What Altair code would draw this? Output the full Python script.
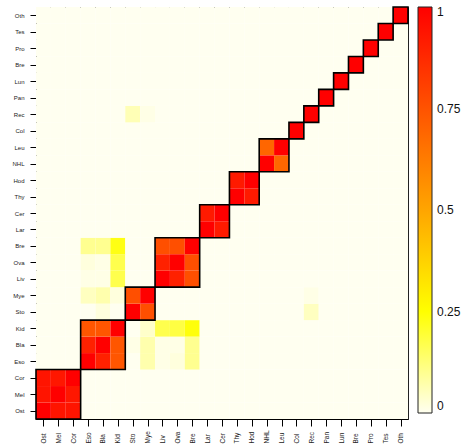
import altair as alt
import pandas as pd

names = ["Ost", "Mel", "Cor", "Eso", "Bla", "Kid", "Sto", "Mye", "Liv", "Ova", "Bre",
         "Lar", "Cer", "Thy", "Hod", "NHL", "Leu", "Col", "Rec", "Pan", "Lun", "Bre",
         "Pro", "Tes", "Oth"]

# block sizes along the diagonal (in the order of names)
group_sizes = [3, 3, 2, 3, 2, 2, 2, 1, 1, 1, 1, 1, 1, 1, 1]

# matrix[row][col]; row 0 = bottom (Ost), col 0 = left (Ost)
matrix = [
    # Ost  Mel  Cor  Eso  Bla  Kid  Sto  Mye  Liv  Ova  Bre  Lar  Cer  Thy  Hod  NHL  Leu  Col  Rec  Pan  Lun  Bre  Pro  Tes  Oth
    [1.00, .94, .94,   0,   0,   0,   0,   0,   0,   0,   0,   0,   0,   0,   0,   0,   0,   0,   0,   0,   0,   0,   0,   0,   0],  # Ost
    [ .94,1.00, .93,   0,   0,   0,   0,   0,   0,   0,   0,   0,   0,   0,   0,   0,   0,   0,   0,   0,   0,   0,   0,   0,   0],  # Mel
    [ .94, .93,1.00,   0,   0,   0,   0,   0,   0,   0,   0,   0,   0,   0,   0,   0,   0,   0,   0,   0,   0,   0,   0,   0,   0],  # Cor
    [   0,   0,   0,1.00, .90, .74,   0, .07, .01, .02, .10,   0,   0,   0,   0,   0,   0,   0,   0,   0,   0,   0,   0,   0,   0],  # Eso
    [   0,   0,   0, .90,1.00, .74, .01, .07, .01, .01, .10,   0,   0,   0,   0,   0,   0,   0,   0,   0,   0,   0,   0,   0,   0],  # Bla
    [   0,   0,   0, .74, .74,1.00,   0, .04, .17, .18, .24,   0,   0,   0,   0,   0,   0,   0,   0,   0,   0,   0,   0,   0,   0],  # Kid
    [   0,   0,   0,   0, .02,   0,1.00, .76,   0,   0,   0,   0,   0,   0,   0,   0,   0,   0, .05,   0,   0,   0,   0,   0,   0],  # Sto
    [   0,   0,   0, .05, .07, .02, .76,1.00,   0,   0,   0,   0,   0,   0,   0,   0,   0,   0, .01,   0,   0,   0,   0,   0,   0],  # Mye
    [   0,   0,   0, .01, .01, .17,   0,   0,1.00, .90, .76,   0,   0,   0,   0,   0,   0,   0,   0,   0,   0,   0,   0,   0,   0],  # Liv
    [   0,   0,   0, .02, .01, .17,   0,   0, .90,1.00, .76,   0,   0,   0,   0,   0,   0,   0,   0,   0,   0,   0,   0,   0,   0],  # Ova
    [   0,   0,   0, .10, .10, .23,   0,   0, .76, .76,1.00,   0,   0,   0,   0,   0,   0,   0,   0,   0,   0,   0,   0,   0,   0],  # Bre
    [   0,   0,   0,   0,   0,   0,   0,   0,   0,   0,   0,1.00, .92,   0,   0,   0,   0,   0,   0,   0,   0,   0,   0,   0,   0],  # Lar
    [   0,   0,   0,   0,   0,   0,   0,   0,   0,   0,   0, .92,1.00,   0,   0,   0,   0,   0,   0,   0,   0,   0,   0,   0,   0],  # Cer
    [   0,   0,   0,   0,   0,   0,   0,   0,   0,   0,   0,   0,   0,1.00, .92,   0,   0,   0,   0,   0,   0,   0,   0,   0,   0],  # Thy
    [   0,   0,   0,   0,   0,   0,   0,   0,   0,   0,   0,   0,   0, .92,1.00,   0,   0,   0,   0,   0,   0,   0,   0,   0,   0],  # Hod
    [   0,   0,   0,   0,   0,   0,   0,   0,   0,   0,   0,   0,   0,   0,   0,1.00, .69,   0,   0,   0,   0,   0,   0,   0,   0],  # NHL
    [   0,   0,   0,   0,   0,   0,   0,   0,   0,   0,   0,   0,   0,   0,   0, .69,1.00,   0,   0,   0,   0,   0,   0,   0,   0],  # Leu
    [   0,   0,   0,   0,   0,   0,   0,   0,   0,   0,   0,   0,   0,   0,   0,   0,   0,1.00,   0,   0,   0,   0,   0,   0,   0],  # Col
    [   0,   0,   0,   0,   0,   0, .06, .01,   0,   0,   0,   0,   0,   0,   0,   0,   0,   0,1.00,   0,   0,   0,   0,   0,   0],  # Rec
    [   0,   0,   0,   0,   0,   0,   0,   0,   0,   0,   0,   0,   0,   0,   0,   0,   0,   0,   0,1.00,   0,   0,   0,   0,   0],  # Pan
    [   0,   0,   0,   0,   0,   0,   0,   0,   0,   0,   0,   0,   0,   0,   0,   0,   0,   0,   0,   0,1.00,   0,   0,   0,   0],  # Lun
    [   0,   0,   0,   0,   0,   0,   0,   0,   0,   0,   0,   0,   0,   0,   0,   0,   0,   0,   0,   0,   0,1.00,   0,   0,   0],  # Bre
    [   0,   0,   0,   0,   0,   0,   0,   0,   0,   0,   0,   0,   0,   0,   0,   0,   0,   0,   0,   0,   0,   0,1.00,   0,   0],  # Pro
    [   0,   0,   0,   0,   0,   0,   0,   0,   0,   0,   0,   0,   0,   0,   0,   0,   0,   0,   0,   0,   0,   0,   0,1.00,   0],  # Tes
    [   0,   0,   0,   0,   0,   0,   0,   0,   0,   0,   0,   0,   0,   0,   0,   0,   0,   0,   0,   0,   0,   0,   0,   0,1.00],  # Oth
]

legend_values = [0, 0.25, 0.5, 0.75, 1]
color_stops = [0, 0.25, 0.5, 1]
color_range = ["#FFFFF0", "#FFFF00", "#FFA500", "#FF0000"]

n = len(names)
cells = pd.DataFrame(
    [{"r": r, "c": c, "v": matrix[r][c]} for r in range(n) for c in range(n)]
)

starts, s = [], 0
for g in group_sizes:
    starts.append(s)
    s += g
blocks = pd.DataFrame({"start": starts,
                       "end": [a + g - 1 for a, g in zip(starts, group_sizes)]})

label_js = "[" + ",".join("'" + t + "'" for t in names) + "][datum.value]"
FONT = "Liberation Sans"

xscale = alt.Scale(domain=[-0.5, n - 0.5], nice=False, zero=False)
yscale = alt.Scale(domain=[-0.5, n - 0.5], nice=False, zero=False)
cscale = alt.Scale(type="linear", domain=color_stops, range=color_range,
                   interpolate="rgb")


def x_axis():
    return alt.Axis(values=list(range(n)), labelExpr=label_js, grid=False, title=None,
                    labelAngle=270, labelAlign="left", labelBaseline="middle",
                    labelPadding=17, tickSize=7, labelFontSize=6.5, labelFont=FONT,
                    labelColor="#222", domainColor="black", tickColor="black",
                    labelOverlap=False, tickCount=n)


def y_axis():
    return alt.Axis(values=list(range(n)), labelExpr=label_js, grid=False, title=None,
                    labelPadding=6, tickSize=6, labelFontSize=6, labelFont=FONT,
                    labelColor="#222", domainColor="black", tickColor="black",
                    labelOverlap=False, tickCount=n)


heat = alt.Chart(cells).transform_calculate(
    x0="datum.c - 0.5", x1="datum.c + 0.5", y0="datum.r - 0.5", y1="datum.r + 0.5"
).mark_rect().encode(
    x=alt.X("x0:Q", scale=xscale, axis=x_axis()),
    x2="x1:Q",
    y=alt.Y("y0:Q", scale=yscale, axis=y_axis()),
    y2="y1:Q",
    color=alt.Color("v:Q", scale=cscale,
                    legend=alt.Legend(orient="none", legendX=382, legendY=0,
                                      direction="vertical", gradientLength=406,
                                      gradientThickness=14, gradientStrokeColor="#222",
                                      gradientStrokeWidth=1, values=legend_values,
                                      format=".2~f", labelFontSize=12, labelOffset=5,
                                      labelFont=FONT, labelColor="#111", title=None,
                                      padding=0, type="gradient")),
)

boxes = alt.Chart(blocks).transform_calculate(
    x0="datum.start - 0.5", x1="datum.end + 0.5"
).mark_rect(fillOpacity=0, stroke="black", strokeWidth=1.6).encode(
    x=alt.X("x0:Q", scale=xscale, axis=x_axis()),
    x2="x1:Q",
    y=alt.Y("x0:Q", scale=yscale, axis=y_axis()),
    y2="x1:Q",
)

chart = alt.layer(heat, boxes).properties(
    width=372, height=412,
    autosize=alt.AutoSizeParams(type="none"),
    padding={"left": 36, "top": 7, "right": 53, "bottom": 25},
    background="white",
).configure_view(stroke="#222", strokeWidth=1)

chart.save("out.html", embed_options={"renderer": "svg", "actions": False})
